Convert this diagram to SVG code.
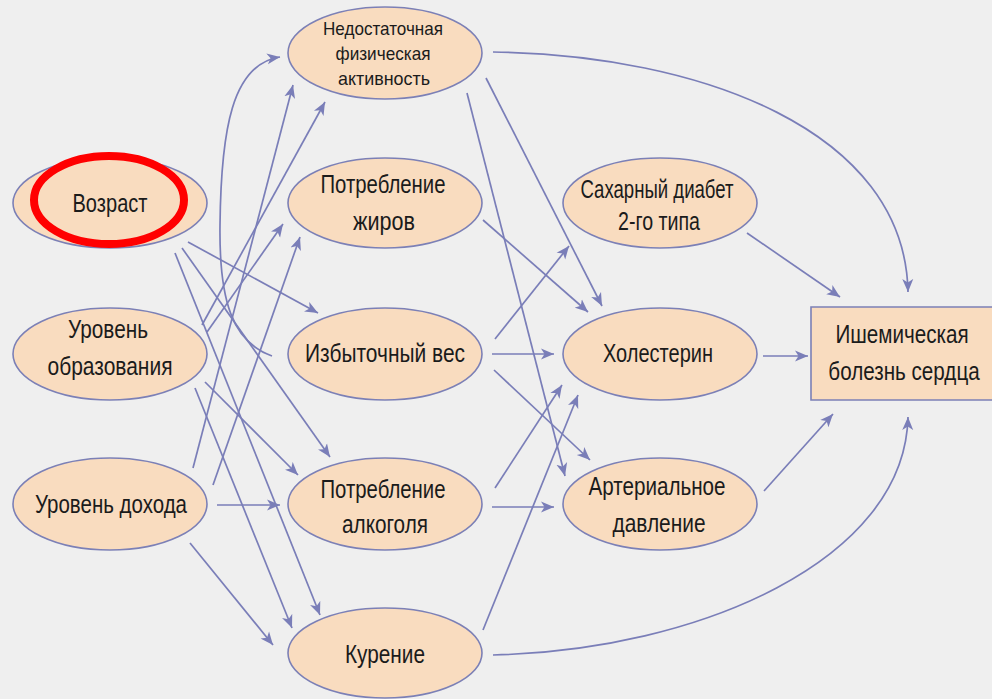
<svg xmlns="http://www.w3.org/2000/svg" width="992" height="699" viewBox="0 0 992 699">
<defs>
<style>
.node{fill:#f9dcbf;stroke:#7c80b6;stroke-width:1.6}
.t{font-family:"Liberation Sans",Arial,sans-serif;font-size:25px;fill:#1b1b1b;text-anchor:middle}
.s{font-size:19px}
.e{fill:none;stroke:#7a7eb8;stroke-width:1.7;marker-end:url(#ah)}
</style>
<marker id="ah" markerUnits="userSpaceOnUse" markerWidth="14" markerHeight="12" refX="13" refY="6" orient="auto">
<path d="M0,0.5 L13,6 L0,11.5 L3.5,6 Z" fill="#7a7eb8"/>
</marker>
</defs>
<rect x="0" y="0" width="992" height="699" fill="#efefef"/>

<g id="connectors">
<line class="e" x1="188" y1="242" x2="318" y2="313"/>
<line class="e" x1="182" y1="248" x2="330" y2="457"/>
<line class="e" x1="175" y1="253" x2="320" y2="615"/>
<line class="e" x1="202" y1="325" x2="325" y2="102"/>
<line class="e" x1="207" y1="332" x2="283" y2="224"/>
<line class="e" x1="205" y1="382" x2="298" y2="475"/>
<line class="e" x1="195" y1="388" x2="292" y2="628"/>
<line class="e" x1="193" y1="468" x2="293" y2="85"/>
<line class="e" x1="213" y1="485" x2="300" y2="237"/>
<line class="e" x1="217" y1="505" x2="280" y2="505"/>
<line class="e" x1="190" y1="543" x2="273" y2="645"/>
<path class="e" d="M272,356 C232,342 219,300 220,225 C221,130 232,64 280,57"/>
<path class="e" d="M493,52 C700,55 905,130 908,292"/>
<line class="e" x1="486" y1="78" x2="602" y2="306"/>
<line class="e" x1="467" y1="93" x2="565" y2="476"/>
<line class="e" x1="483" y1="220" x2="588" y2="312"/>
<line class="e" x1="495" y1="339" x2="569" y2="246"/>
<line class="e" x1="492" y1="354" x2="554" y2="354"/>
<line class="e" x1="494" y1="370" x2="590" y2="460"/>
<line class="e" x1="495" y1="488" x2="562" y2="385"/>
<line class="e" x1="492" y1="507" x2="554" y2="507"/>
<line class="e" x1="483" y1="630" x2="578" y2="395"/>
<path class="e" d="M493,655 C700,650 905,560 908,417"/>
<line class="e" x1="747" y1="233" x2="840" y2="297"/>
<line class="e" x1="763" y1="356" x2="808" y2="356"/>
<line class="e" x1="764" y1="491" x2="833" y2="414"/>
</g>

<g id="n-vozrast">
<ellipse class="node" cx="110" cy="203" rx="97" ry="45"/>
<text class="t" x="110" y="212" textLength="75" lengthAdjust="spacingAndGlyphs">Возраст</text>
</g>
<g id="n-obrazovanie">
<ellipse class="node" cx="110" cy="354" rx="97" ry="46"/>
<text class="t" x="108" y="338" textLength="80" lengthAdjust="spacingAndGlyphs">Уровень</text>
<text class="t" x="110" y="375" textLength="125" lengthAdjust="spacingAndGlyphs">образования</text>
</g>
<g id="n-dohod">
<ellipse class="node" cx="110" cy="504" rx="97" ry="46"/>
<text class="t" x="111" y="513" textLength="152" lengthAdjust="spacingAndGlyphs">Уровень дохода</text>
</g>
<g id="n-fiz">
<ellipse class="node" cx="385" cy="53" rx="97" ry="46"/>
<text class="t s" x="383" y="35" textLength="120" lengthAdjust="spacingAndGlyphs">Недостаточная</text>
<text class="t s" x="383" y="60" textLength="95" lengthAdjust="spacingAndGlyphs">физическая</text>
<text class="t s" x="384" y="85" textLength="92" lengthAdjust="spacingAndGlyphs">активность</text>
</g>
<g id="n-zhiry">
<ellipse class="node" cx="385" cy="203" rx="97" ry="45"/>
<text class="t" x="383" y="193" textLength="125" lengthAdjust="spacingAndGlyphs">Потребление</text>
<text class="t" x="384" y="230" textLength="62" lengthAdjust="spacingAndGlyphs">жиров</text>
</g>
<g id="n-ves">
<ellipse class="node" cx="385" cy="354" rx="97" ry="46"/>
<text class="t" x="385" y="362" textLength="160" lengthAdjust="spacingAndGlyphs">Избыточный вес</text>
</g>
<g id="n-alkogol">
<ellipse class="node" cx="385" cy="504" rx="97" ry="46"/>
<text class="t" x="383" y="498" textLength="125" lengthAdjust="spacingAndGlyphs">Потребление</text>
<text class="t" x="385" y="533" textLength="86" lengthAdjust="spacingAndGlyphs">алкоголя</text>
</g>
<g id="n-kurenie">
<ellipse class="node" cx="385" cy="653" rx="97" ry="45"/>
<text class="t" x="385" y="663" textLength="80" lengthAdjust="spacingAndGlyphs">Курение</text>
</g>
<g id="n-diabet">
<ellipse class="node" cx="660" cy="203" rx="97" ry="45"/>
<text class="t" x="657" y="198" textLength="153" lengthAdjust="spacingAndGlyphs">Сахарный диабет</text>
<text class="t" x="659" y="230" textLength="82" lengthAdjust="spacingAndGlyphs">2-го типа</text>
</g>
<g id="n-holesterin">
<ellipse class="node" cx="660" cy="354" rx="97" ry="46"/>
<text class="t" x="658" y="362" textLength="110" lengthAdjust="spacingAndGlyphs">Холестерин</text>
</g>
<g id="n-davlenie">
<ellipse class="node" cx="660" cy="504" rx="97" ry="46"/>
<text class="t" x="657" y="495" textLength="137" lengthAdjust="spacingAndGlyphs">Артериальное</text>
<text class="t" x="659" y="532" textLength="93" lengthAdjust="spacingAndGlyphs">давление</text>
</g>
<g id="n-ibs">
<rect x="811" y="307" width="181" height="93" fill="#f9dcbf"/>
<path d="M992,307 H811 V400 H992" fill="none" stroke="#7c80b6" stroke-width="1.6"/>
<text class="t" transform="translate(902,343) scale(0.826,1)" x="0" y="0">Ишемическая</text>
<text class="t" transform="translate(904,380) scale(0.826,1)" x="0" y="0">болезнь сердца</text>
</g>
<ellipse cx="109" cy="200" rx="75" ry="44" fill="none" stroke="#ff0000" stroke-width="8"/>
</svg>
